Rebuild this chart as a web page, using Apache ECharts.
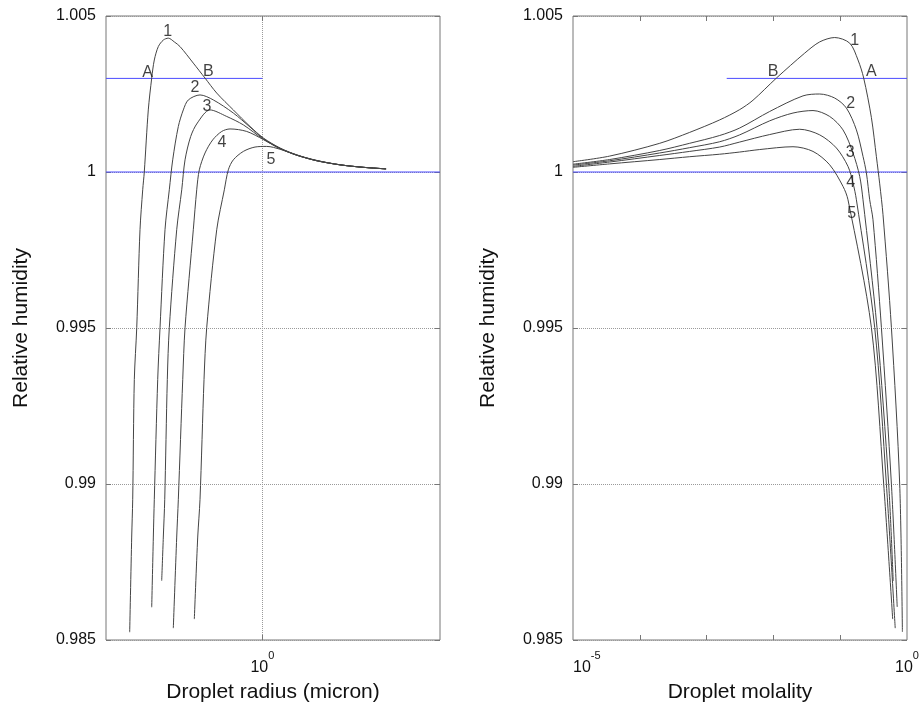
<!DOCTYPE html>
<html><head><meta charset="utf-8">
<script src="https://cdn.jsdelivr.net/npm/echarts@6/dist/echarts.min.js"></script>
<style>html,body{margin:0;padding:0;background:#fff}#c{width:923px;height:708px}</style>
</head><body><div id="c"></div>
<script>
// ---- Left panel: relative humidity vs droplet radius (micron) ----
const radius1 = [0.0787,0.0818,0.0834,0.0860,0.0901,0.0959,0.1010,0.1041,0.1124,0.1200,0.1261,0.1362,0.1500,0.1650,0.1850,0.2064,0.2662,0.3332,0.4169,0.5729,0.7889,1.018,1.401,1.930,2.830,4.424,6.913,10.68];
const rhR1 = [0.98525,0.98830,0.98951,0.99335,0.99501,0.99815,0.99943,1.00000,1.00199,1.00301,1.00359,1.00402,1.00423,1.00429,1.00417,1.00402,1.00349,1.00301,1.00253,1.00199,1.00146,1.00109,1.00077,1.00055,1.00037,1.00023,1.00015,1.00010];
const radius2 = [0.1200,0.1238,0.1261,0.1346,0.1407,0.1548,0.1681,0.1794,0.1998,0.2198,0.2419,0.3027,0.3905,0.5729,0.7889,1.018,1.401,1.930,2.830,4.424,6.913,10.68];
const rhR2 = [0.98605,0.98830,0.98951,0.99335,0.99501,0.99815,0.99943,1.00039,1.00146,1.00199,1.00231,1.00247,1.00231,1.00189,1.00144,1.00107,1.00076,1.00054,1.00037,1.00023,1.00015,1.00010];
const radius3 = [0.1453,0.1499,0.1540,0.1618,0.1681,0.1937,0.2133,0.2272,0.2533,0.2875,0.3665,0.5048,0.6940,1.018,1.401,1.930,2.830,4.424,6.913,10.68];
const rhR3 = [0.98690,0.98830,0.98951,0.99335,0.99501,0.99815,0.99943,1.00039,1.00114,1.00157,1.00199,1.00178,1.00151,1.00105,1.00075,1.00054,1.00036,1.00023,1.00015,1.00010];
const radius4 = [0.1815,0.1937,0.1998,0.2174,0.2272,0.2662,0.2842,0.2987,0.3332,0.3861,0.4587,0.5378,0.7404,1.018,1.401,1.930,2.830,4.424,6.913,10.68];
const rhR4 = [0.98538,0.98830,0.98951,0.99335,0.99501,0.99815,0.99943,1.00007,1.00061,1.00103,1.00130,1.00138,1.00130,1.00104,1.00075,1.00054,1.00036,1.00023,1.00015,1.00010];
const radius5 = [0.2714,0.2897,0.3027,0.3268,0.3441,0.4169,0.4822,0.5206,0.5729,0.6940,0.8682,1.086,1.233,1.593,1.930,2.830,4.424,6.913,10.68];
const rhR5 = [0.98567,0.98830,0.98951,0.99335,0.99501,0.99815,0.99943,1.00007,1.00039,1.00066,1.00080,1.00082,1.00079,1.00066,1.00054,1.00036,1.00023,1.00015,1.00010];

// ---- Right panel: relative humidity vs droplet molality ----
const molality1 = [1e-5,3.54e-5,1.99e-4,5.58e-4,1.571e-3,3.13e-3,4.95e-3,0.01109,0.02941,0.04932,0.08278,0.1388,0.1847,0.2248,0.2932,0.3482,0.3903,0.4373,0.5843,0.7775,0.8533];
const rhM1 = [1.00033,1.00051,1.00092,1.00127,1.00167,1.00200,1.00230,1.00301,1.00381,1.00417,1.00431,1.00413,1.00359,1.00301,1.00174,1.00049,0.99962,0.99863,0.99501,0.98999,0.98526];
const molality2 = [1e-5,3.54e-5,1.99e-4,5.58e-4,1.571e-3,3.13e-3,8.80e-3,0.02773,0.04932,0.08278,0.1238,0.1748,0.2195,0.2467,0.2764,0.3097,0.4139,0.5843,0.7134];
const rhM2 = [1.00025,1.00040,1.00069,1.00092,1.00117,1.00141,1.00194,1.00244,1.00250,1.00237,1.00205,1.00135,1.00050,0.99997,0.99911,0.99847,0.99501,0.98999,0.98606];
const molality3 = [1e-5,3.54e-5,1.99e-4,5.58e-4,1.571e-3,3.13e-3,8.80e-3,0.01965,0.03916,0.06964,0.1101,0.1554,0.1958,0.2195,0.3555,0.5321,0.6215];
const rhM3 = [1.00022,1.00036,1.00061,1.00078,1.00097,1.00119,1.00164,1.00189,1.00197,1.00178,1.00135,1.00061,0.99986,0.99911,0.99501,0.98999,0.98689];
const molality4 = [1e-5,3.54e-5,1.99e-4,5.58e-4,1.571e-3,3.13e-3,8.80e-3,0.02476,0.04932,0.08770,0.1308,0.1554,0.1748,0.3285,0.4916,0.6661];
const rhM4 = [1.00018,1.00032,1.00053,1.00066,1.00080,1.00096,1.00120,1.00137,1.00119,1.00077,1.00018,0.99965,0.99911,0.99501,0.98999,0.98538];
const molality5 = [1e-5,3.54e-5,1.99e-4,5.58e-4,1.571e-3,3.13e-3,6.24e-3,0.01965,0.03916,0.06964,0.1101,0.1308,0.2932,0.4480,0.6108];
const rhM5 = [1.00015,1.00026,1.00040,1.00049,1.00057,1.00064,1.00072,1.00081,1.00066,1.00023,0.99954,0.99911,0.99501,0.98999,0.98567];

// ---- Reference levels (blue lines) ----
const supersatLevel = 1.003;
const saturationLevel = 1.0;
const supersatLeftX = [0.05, 1];
const saturationLeftX = [0.05, 30];
const supersatRightX = [0.002, 1];
const saturationRightX = [1e-5, 1];

// ---- Axes ----
const radiusRange = [0.05, 30];
const molalityRange = [1e-5, 1];
const rhTicks = [0.985, 0.99, 0.995, 1, 1.005];
const radiusTickValues = [1];
const radiusTickLabels = ['10^0'];
const molalityTickValues = [1e-4, 1e-3, 1e-2, 1e-1];
const molalityLabelValues = [1e-5, 1];
const molalityTickLabels = ['10^-5', '10^0'];

// ---- Curve annotations ----
const annoText = ['1','2','3','4','5','A','B'];
const annoLeftR = [0.163, 0.275, 0.346, 0.461, 1.18, 0.111, 0.355];
const annoLeftRH = [1.0045, 1.0027, 1.00209, 1.00094, 1.00039, 1.0032, 1.00322];
const annoRightM = [0.165, 0.1436, 0.1412, 0.1436, 0.1486, 0.293, 0.00987];
const annoRightRH = [1.0042, 1.00218, 1.00063, 0.99967, 0.99866, 1.00322, 1.00322];

const FONT = 'Liberation Sans, Arial, Helvetica, sans-serif';
const pairs = (xs, ys) => xs.map((x, i) => [x, ys[i]]);
const supText = (s) => { const p = s.split('^'); return '{b|' + p[0] + '}{s|' + p[1] + '}'; };
const richSup = {
  b: { fontSize: 16, fontFamily: FONT, color: '#111', lineHeight: 26, verticalAlign: 'bottom' },
  s: { fontSize: 11, fontFamily: FONT, color: '#111', verticalAlign: 'top' }
};

const chart = echarts.init(document.getElementById('c'), null, { renderer: 'canvas' });

function curve(xs, ys, gi) {
  return { type: 'line', xAxisIndex: gi * 2, yAxisIndex: gi * 2, data: pairs(xs, ys),
    showSymbol: false, symbol: 'none', smooth: 0.3, clip: true, silent: true, z: 3,
    lineStyle: { color: '#444', width: 1 } };
}
function hline(xs, level, gi) {
  return { type: 'line', xAxisIndex: gi * 2, yAxisIndex: gi * 2, data: xs.map(x => [x, level]),
    showSymbol: false, symbol: 'none', silent: true, z: 2,
    lineStyle: { color: '#4b4bff', width: 1 } };
}
function annos(xs, ys, gi) {
  return { type: 'scatter', xAxisIndex: gi * 2, yAxisIndex: gi * 2, symbolSize: 0, silent: true, z: 5,
    data: xs.map((x, i) => ({ value: [x, ys[i]], name: annoText[i] })),
    label: { show: true, position: 'inside', formatter: '{b}', fontSize: 16, fontFamily: FONT, color: '#111' } };
}

function xAxes(gi, range, tickVals, labelVals, labelTexts, name, nameGap, gridLines, alignMin) {
  const bottom = {
    type: 'log', logBase: 10, gridIndex: gi, min: range[0], max: range[1], position: 'bottom',
    axisLine: { show: false },
    axisTick: { show: true, inside: true, length: 5, customValues: tickVals, lineStyle: { color: '#777' } },
    axisLabel: { show: true, customValues: labelVals, margin: 10, alignMinLabel: alignMin,
      formatter: (v) => { const i = labelVals.findIndex(t => Math.abs(Math.log10(t) - Math.log10(v)) < 1e-6); return i >= 0 ? supText(labelTexts[i]) : ''; },
      rich: richSup },
    splitLine: { show: gridLines, lineStyle: { type: 'dotted', color: '#9a9a9a', width: 1 } },
    name: name, nameLocation: 'middle', nameGap: nameGap,
    nameTextStyle: { fontSize: 21, fontFamily: FONT, color: '#111' }
  };
  const top = {
    type: 'log', logBase: 10, gridIndex: gi, min: range[0], max: range[1], position: 'top',
    axisLine: { show: false },
    axisTick: { show: true, inside: true, length: 5, customValues: tickVals, lineStyle: { color: '#777' } },
    axisLabel: { show: false }, splitLine: { show: false }
  };
  return [bottom, top];
}
function yAxes(gi, nameGap) {
  const left = {
    type: 'value', gridIndex: gi, min: rhTicks[0], max: rhTicks[rhTicks.length - 1], interval: 0.005, position: 'left',
    axisLine: { show: false },
    axisTick: { show: true, inside: true, length: 5, lineStyle: { color: '#777' } },
    axisLabel: { show: true, margin: 10, fontSize: 16, fontFamily: FONT, color: '#111',
      formatter: (v) => { const i = rhTicks.findIndex(t => Math.abs(t - v) < 1e-9); return i >= 0 ? String(rhTicks[i]) : ''; } },
    splitLine: { show: true, lineStyle: { type: 'dotted', color: '#9a9a9a', width: 1 } },
    name: 'Relative humidity', nameLocation: 'middle', nameGap: nameGap, nameRotate: 90,
    nameTextStyle: { fontSize: 21, fontFamily: FONT, color: '#111' }
  };
  const right = {
    type: 'value', gridIndex: gi, min: rhTicks[0], max: rhTicks[rhTicks.length - 1], interval: 0.005, position: 'right',
    axisLine: { show: false },
    axisTick: { show: true, inside: true, length: 5, lineStyle: { color: '#777' } },
    axisLabel: { show: false }, splitLine: { show: false }
  };
  return [left, right];
}

const option = {
  animation: false,
  backgroundColor: '#fff',
  grid: [
    { left: 106, top: 16, width: 334, height: 625, show: true, borderColor: '#777', borderWidth: 1, backgroundColor: 'transparent' },
    { left: 573, top: 16, width: 334, height: 625, show: true, borderColor: '#777', borderWidth: 1, backgroundColor: 'transparent' }
  ],
  xAxis: [
    ...xAxes(0, radiusRange, radiusTickValues, radiusTickValues, radiusTickLabels, 'Droplet radius (micron)', 42, true, 'center'),
    ...xAxes(1, molalityRange, molalityTickValues, molalityLabelValues, molalityTickLabels, 'Droplet molality', 42, false, 'left')
  ],
  yAxis: [ ...yAxes(0, 74), ...yAxes(1, 74) ],
  series: [
    hline(supersatLeftX, supersatLevel, 0),
    hline(saturationLeftX, saturationLevel, 0),
    hline(supersatRightX, supersatLevel, 1),
    hline(saturationRightX, saturationLevel, 1),
    curve(radius1, rhR1, 0), curve(radius2, rhR2, 0), curve(radius3, rhR3, 0), curve(radius4, rhR4, 0), curve(radius5, rhR5, 0),
    curve(molality1, rhM1, 1), curve(molality2, rhM2, 1), curve(molality3, rhM3, 1), curve(molality4, rhM4, 1), curve(molality5, rhM5, 1),
    annos(annoLeftR, annoLeftRH, 0),
    annos(annoRightM, annoRightRH, 1)
  ]
};
chart.setOption(option);
</script>
</body></html>
